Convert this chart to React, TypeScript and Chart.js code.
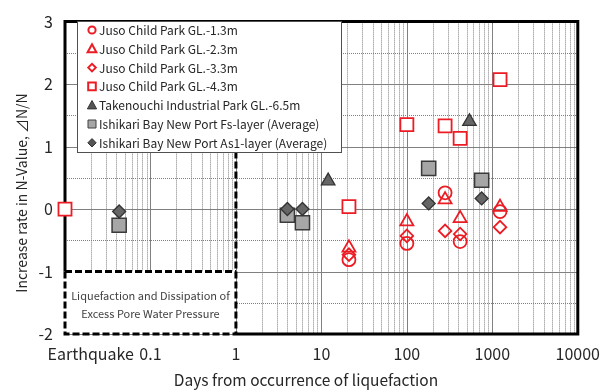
import React, { useEffect, useRef } from 'react';
import { Chart, registerables } from 'chart.js';

Chart.register(...registerables);

const FONT = '"Noto Sans CJK JP", "Noto Sans", sans-serif';

// ---- axis ticks ----
const xTickValues = [0.02, 0.1, 1, 10, 100, 1000, 10000];
const xTickLabels = ['Earthquake', '0.1', '1', '10', '100', '1000', '10000'];
const yTickValues = [-2, -1, 0, 1, 2, 3];

// ---- series ----
const seriesNames = [
  'Juso Child Park GL.-1.3m',
  'Juso Child Park GL.-2.3m',
  'Juso Child Park GL.-3.3m',
  'Juso Child Park GL.-4.3m',
  'Takenouchi Industrial Park GL.-6.5m',
  'Ishikari Bay New Port Fs-layer (Average)',
  'Ishikari Bay New Port As1-layer (Average)',
];

const juso13Days = [21, 100, 280, 420, 1230];
const juso13Rate = [-0.81, -0.55, 0.26, -0.52, -0.04];

const juso23Days = [21, 100, 280, 420, 1230];
const juso23Rate = [-0.62, -0.2, 0.15, -0.15, 0.03];

const juso33Days = [21, 100, 280, 420, 1230];
const juso33Rate = [-0.73, -0.43, -0.35, -0.4, -0.29];

const juso43Days = [0.01, 21, 100, 280, 420, 1230];
const juso43Rate = [0, 0.04, 1.35, 1.33, 1.13, 2.07];

const takenouchiDays = [12, 540];
const takenouchiRate = [0.45, 1.4];

const ishikariFsDays = [0.043, 4, 6, 180, 750];
const ishikariFsRate = [-0.26, -0.1, -0.22, 0.65, 0.46];

const ishikariAs1Days = [0.043, 4, 6, 180, 750];
const ishikariAs1Rate = [-0.04, 0, 0, 0.09, 0.17];

const RED = '#ec1c24';
const TEXT = '#262626';

function pts(xs: number[], ys: number[]) {
  return xs.map((x, i) => ({ x, y: ys[i] }));
}

type Mk = { style: string; fill: string; stroke: string; lw: number; r: number };
const legendMarks: Mk[] = [
  { style: 'circle', fill: 'rgba(0,0,0,0)', stroke: RED, lw: 2, r: 3.6 },
  { style: 'triangle', fill: 'rgba(0,0,0,0)', stroke: RED, lw: 2, r: 4.4 },
  { style: 'rectRot', fill: 'rgba(0,0,0,0)', stroke: RED, lw: 2, r: 3.8 },
  { style: 'rect', fill: '#ffffff', stroke: RED, lw: 2, r: 3.8 },
  { style: 'triangle', fill: '#555555', stroke: '#333333', lw: 1, r: 4.6 },
  { style: 'rect', fill: '#a6a6a6', stroke: '#404040', lw: 1, r: 4 },
  { style: 'rectRot', fill: '#555555', stroke: '#333333', lw: 1, r: 4.2 },
];

function drawMark(ctx: CanvasRenderingContext2D, m: Mk, x: number, y: number) {
  ctx.save();
  ctx.beginPath();
  if (m.style === 'circle') ctx.arc(x, y, m.r, 0, Math.PI * 2);
  else if (m.style === 'rect') ctx.rect(x - m.r, y - m.r, m.r * 2, m.r * 2);
  else if (m.style === 'rectRot') {
    ctx.moveTo(x - m.r, y);
    ctx.lineTo(x, y - m.r);
    ctx.lineTo(x + m.r, y);
    ctx.lineTo(x, y + m.r);
    ctx.closePath();
  } else {
    const h = m.r * 1.6;
    ctx.moveTo(x, y - h / 2 - 1);
    ctx.lineTo(x + m.r, y + h / 2);
    ctx.lineTo(x - m.r, y + h / 2);
    ctx.closePath();
  }
  ctx.fillStyle = m.fill;
  ctx.fill();
  ctx.lineWidth = m.lw;
  ctx.strokeStyle = m.stroke;
  ctx.stroke();
  ctx.restore();
}

const framePlugin = {
  id: 'frame',
  beforeDatasetsDraw(chart: any) {
    const { ctx, chartArea: a, scales } = chart;
    const xs = scales.x;
    const ys = scales.y;
    ctx.save();
    ctx.lineWidth = 1;
    // vertical minor grid
    ctx.strokeStyle = '#808080';
    ctx.setLineDash([1, 1]);
    for (let d = -2; d < 4; d++) {
      for (let k = 2; k <= 9; k++) {
        const px = Math.round(xs.getPixelForValue(k * Math.pow(10, d))) + 0.5;
        ctx.beginPath();
        ctx.moveTo(px, a.top);
        ctx.lineTo(px, a.bottom);
        ctx.stroke();
      }
    }
    // horizontal half grid
    for (let v = -1.5; v < 3; v += 1) {
      const py = Math.round(ys.getPixelForValue(v)) + 0.5;
      ctx.beginPath();
      ctx.moveTo(a.left, py);
      ctx.lineTo(a.right, py);
      ctx.stroke();
    }
    ctx.setLineDash([]);
    ctx.strokeStyle = '#808080';
    // decade verticals
    for (let d = -1; d < 4; d++) {
      const px = Math.round(xs.getPixelForValue(Math.pow(10, d))) + 0.5;
      ctx.beginPath();
      ctx.moveTo(px, a.top);
      ctx.lineTo(px, a.bottom);
      ctx.stroke();
    }
    // integer horizontals
    for (const v of yTickValues) {
      const py = Math.round(ys.getPixelForValue(v)) + 0.5;
      ctx.beginPath();
      ctx.moveTo(a.left, py);
      ctx.lineTo(a.right, py);
      ctx.stroke();
    }
    // liquefaction box
    const x1 = xs.getPixelForValue(1);
    const ym1 = ys.getPixelForValue(-1);
    ctx.fillStyle = '#ffffff';
    ctx.fillRect(a.left, ym1, x1 - a.left, a.bottom - ym1);
    ctx.fillStyle = '#404040';
    ctx.font = '11px ' + FONT;
    ctx.textAlign = 'center';
    ctx.textBaseline = 'middle';
    const cx = (a.left + x1) / 2;
    ctx.fillText('Liquefaction and Dissipation of', cx, ys.getPixelForValue(-1.385));
    ctx.fillText('Excess Pore Water Pressure', cx, ys.getPixelForValue(-1.67));

    // solid frame
    ctx.strokeStyle = '#000000';
    ctx.lineWidth = 3;
    ctx.beginPath();
    ctx.moveTo(a.left, ym1);
    ctx.lineTo(a.left, a.top);
    ctx.lineTo(a.right, a.top);
    ctx.lineTo(a.right, a.bottom);
    ctx.lineTo(x1, a.bottom);
    ctx.stroke();
    // dashed lines
    ctx.setLineDash([7, 3]);
    ctx.beginPath();
    ctx.moveTo(x1, a.top);
    ctx.lineTo(x1, a.bottom);
    ctx.stroke();
    ctx.beginPath();
    ctx.moveTo(a.left, ym1);
    ctx.lineTo(x1, ym1);
    ctx.stroke();
    ctx.beginPath();
    ctx.moveTo(a.left, ym1);
    ctx.lineTo(a.left, a.bottom);
    ctx.lineTo(x1, a.bottom);
    ctx.stroke();
    ctx.restore();
  },
  afterDraw(chart: any) {
    const { ctx } = chart;
    ctx.save();
    // legend box
    const bx = 77.5, by = 21.5, bw = 264, bh = 131;
    ctx.fillStyle = '#ffffff';
    ctx.fillRect(bx, by, bw, bh);
    ctx.strokeStyle = '#505050';
    ctx.lineWidth = 1;
    ctx.strokeRect(bx, by, bw, bh);
    ctx.font = '12px ' + FONT;
    ctx.fillStyle = TEXT;
    ctx.textAlign = 'left';
    ctx.textBaseline = 'middle';
    seriesNames.forEach((n, i) => {
      const yy = 30 + i * 18.8;
      drawMark(ctx, legendMarks[i], 92, yy);
      ctx.fillText(n, 99, yy + 0.5);
    });
    // axis titles
    ctx.font = '15.5px ' + FONT;
    ctx.textAlign = 'center';
    ctx.fillText('Days from occurrence of liquefaction', 306, 380);
    ctx.font = '14px ' + FONT;
    ctx.translate(22, 193);
    ctx.rotate(-Math.PI / 2);
    ctx.fillText('Increase rate in N-Value, ⊿N/N', 0, 0);
    ctx.restore();
  },
};

export default function App() {
  const ref = useRef<HTMLCanvasElement>(null);
  useEffect(() => {
    const redOpen = 'rgba(0,0,0,0)';
    const chart = new Chart(ref.current as HTMLCanvasElement, {
      type: 'scatter',
      data: {
        datasets: [
          { label: seriesNames[0], data: pts(juso13Days, juso13Rate), pointStyle: 'circle', pointRadius: 6.5, borderColor: RED, backgroundColor: redOpen, borderWidth: 1.8, order: 0, clip: false },
          { label: seriesNames[1], data: pts(juso23Days, juso23Rate), pointStyle: 'triangle', pointRadius: 7.5, borderColor: RED, backgroundColor: redOpen, borderWidth: 1.8, order: 1, clip: false },
          { label: seriesNames[2], data: pts(juso33Days, juso33Rate), pointStyle: 'rectRot', pointRadius: 6.3, borderColor: RED, backgroundColor: redOpen, borderWidth: 1.8, order: 2, clip: false },
          { label: seriesNames[3], data: pts(juso43Days, juso43Rate), pointStyle: 'rect', pointRadius: 9.2, borderColor: RED, backgroundColor: '#ffffff', borderWidth: 1.8, order: 3, clip: false },
          { label: seriesNames[4], data: pts(takenouchiDays, takenouchiRate), pointStyle: 'triangle', pointRadius: 7.8, borderColor: '#333333', backgroundColor: '#666666', borderWidth: 1.3, order: 4, clip: false },
          { label: seriesNames[5], data: pts(ishikariFsDays, ishikariFsRate), pointStyle: 'rect', pointRadius: 10, borderColor: '#3a3a3a', backgroundColor: '#a6a6a6', borderWidth: 1.5, order: 6, clip: false },
          { label: seriesNames[6], data: pts(ishikariAs1Days, ishikariAs1Rate), pointStyle: 'rectRot', pointRadius: 6.5, borderColor: '#333333', backgroundColor: '#666666', borderWidth: 1.3, order: 5, clip: false },
        ] as any,
      },
      options: {
        animation: false,
        responsive: false,
        devicePixelRatio: 1,
        layout: { padding: { left: 0, right: 32, top: 16, bottom: 0 } },
        plugins: { legend: { display: false }, tooltip: { enabled: false }, title: { display: false } },
        scales: {
          x: {
            type: 'logarithmic',
            min: 0.01,
            max: 10000,
            bounds: 'data',
            grid: { display: false, drawTicks: false },
            border: { display: false },
            afterBuildTicks: (s: any) => {
              s.ticks = xTickValues.map((v) => ({ value: v }));
            },
            afterFit: (s: any) => {
              s.height = 58;
            },
            ticks: {
              autoSkip: false,
              maxRotation: 0,
              minRotation: 0,
              padding: 10,
              color: TEXT,
              font: { family: FONT, size: 16 },
              callback: (_v: any, i: number) => xTickLabels[i],
            },
          },
          y: {
            type: 'linear',
            min: -2,
            max: 3,
            grid: { display: false, drawTicks: false },
            border: { display: false },
            afterBuildTicks: (s: any) => {
              s.ticks = yTickValues.map((v) => ({ value: v }));
            },
            afterFit: (s: any) => {
              s.width = 65;
            },
            ticks: {
              padding: 12,
              color: TEXT,
              font: { family: FONT, size: 16 },
              callback: (v: any) => String(v),
            },
          },
        },
      },
      plugins: [framePlugin],
    } as any);
    return () => chart.destroy();
  }, []);
  return (
    <div style={{ position: 'fixed', left: 0, top: 0, width: 610, height: 392, background: '#ffffff' }}>
      <canvas ref={ref} width={610} height={392} style={{ display: 'block', width: 610, height: 392 }} />
    </div>
  );
}
